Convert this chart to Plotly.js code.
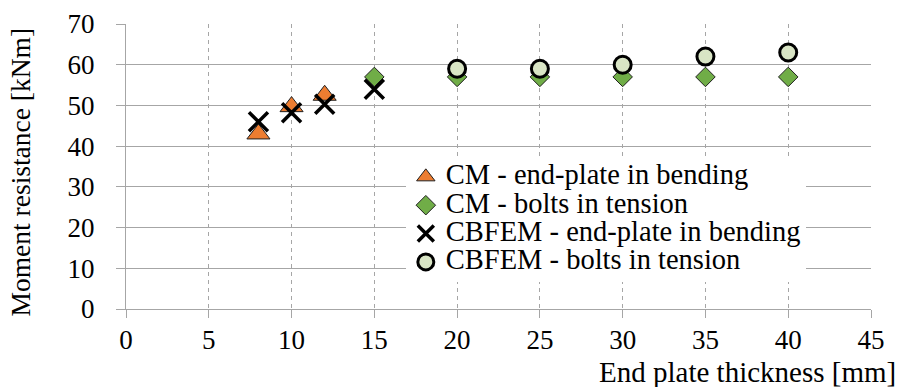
<!DOCTYPE html>
<html>
<head>
<meta charset="utf-8">
<script src="https://cdn.plot.ly/plotly-3.0.1.min.js"></script>
<style>html,body{margin:0;padding:0;background:#fff;}#chart{width:901px;height:387px;}</style>
</head>
<body>
<div id="chart"></div>
<script>
// Data
var cmPlateX = [8, 10, 12];
var cmPlateY = [43, 49.7, 52.5];
var cmBoltsX = [15, 20, 25, 30, 35, 40];
var cmBoltsY = [57, 57, 57, 57, 57, 57];
var fePlateX = [8, 10, 12, 15];
var fePlateY = [46, 48.2, 50.3, 54];
var feBoltsX = [20, 25, 30, 35, 40];
var feBoltsY = [59, 59, 60, 62, 63];

var seriesNames = ['CM - end-plate in bending', 'CM - bolts in tension',
                   'CBFEM - end-plate in bending', 'CBFEM - bolts in tension'];
var xTicks = [0, 5, 10, 15, 20, 25, 30, 35, 40, 45];
var yTicks = [0, 10, 20, 30, 40, 50, 60, 70];

var FONT = 'Liberation Serif';
function nm(s) { return '<span style="font-size:28.5px;font-family:Liberation Serif">' + s + '</span>'; }

var traces = [
  {x: cmPlateX, y: cmPlateY, name: nm(seriesNames[0]), type: 'scatter', mode: 'markers',
   marker: {symbol: 'triangle-up', size: 20, color: '#ED7D31', line: {color: '#202020', width: 1}}},
  {x: cmBoltsX, y: cmBoltsY, name: nm(seriesNames[1]), type: 'scatter', mode: 'markers',
   marker: {symbol: 'diamond', size: 15, color: '#70AD47', line: {color: '#202020', width: 1}}},
  {x: fePlateX, y: fePlateY, name: nm(seriesNames[2]), type: 'scatter', mode: 'markers',
   marker: {symbol: 'x-thin', size: 19, color: '#000000', line: {color: '#000000', width: 3.5}}},
  {x: feBoltsX, y: feBoltsY, name: nm(seriesNames[3]), type: 'scatter', mode: 'markers',
   marker: {symbol: 'circle', size: 17, color: '#D9E5C5', line: {color: '#000000', width: 3}}}
];

var layout = {
  width: 901, height: 387,
  margin: {l: 126, r: 30, t: 24, b: 78, pad: 0},
  paper_bgcolor: '#ffffff', plot_bgcolor: '#ffffff',
  font: {family: FONT, color: '#000000', size: 27},
  showlegend: true,
  legend: {x: 0.3756, y: 0.531, xanchor: 'left', yanchor: 'top', bgcolor: '#ffffff',
           borderwidth: 0, font: {family: FONT, size: 19.5, color: '#000000'},
           itemwidth: 30, tracegroupgap: 0},
  xaxis: {range: [0, 45], tickvals: xTicks, ticktext: xTicks.map(String),
          showgrid: true, gridcolor: '#A6A6A6', griddash: '4px,4px', gridwidth: 1,
          zeroline: false, showline: true, linecolor: '#A6A6A6', linewidth: 1,
          ticks: 'outside', ticklen: 8, tickcolor: '#A6A6A6', tickwidth: 1,
          ticklabelstandoff: -1,
          tickfont: {family: FONT, size: 27, color: '#000000'}, fixedrange: true},
  yaxis: {range: [0, 70], tickvals: yTicks, ticktext: yTicks.map(String),
          showgrid: true, gridcolor: '#A6A6A6', gridwidth: 1,
          zeroline: false, showline: true, linecolor: '#A6A6A6', linewidth: 1,
          ticks: 'outside', ticklen: 9, tickcolor: '#A6A6A6', tickwidth: 1,
          ticklabelstandoff: 16,
          tickfont: {family: FONT, size: 27, color: '#000000'}, fixedrange: true},
  annotations: [
    {text: 'End plate thickness [mm]', xref: 'paper', yref: 'paper', x: 1, y: 0,
     xanchor: 'right', yanchor: 'top', xshift: 27, yshift: -45, showarrow: false,
     font: {family: FONT, size: 29, color: '#000000'}},
    {text: 'Moment resistance [kNm]', xref: 'paper', yref: 'paper', x: 0, y: 0.5,
     xanchor: 'center', yanchor: 'middle', xshift: -106, yshift: -6, textangle: -90,
     showarrow: false, font: {family: FONT, size: 27.5, color: '#000000'}}
  ]
};

Plotly.newPlot('chart', traces, layout, {displayModeBar: false, staticPlot: true});
</script>
</body>
</html>
